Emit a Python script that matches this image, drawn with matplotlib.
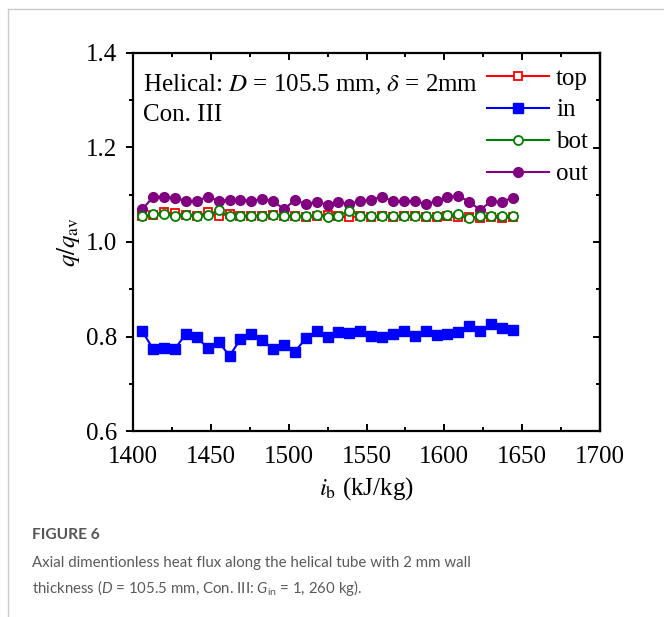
import numpy as np
import matplotlib
matplotlib.use("Agg")
import matplotlib.pyplot as plt
from matplotlib.lines import Line2D
from matplotlib.ticker import MultipleLocator, FormatStrFormatter

# ---- data ----
ib = [1406 + 7 * k for k in range(35)]
q_top = [1.055, 1.058, 1.063, 1.061, 1.057, 1.055, 1.063, 1.055, 1.060, 1.056,
         1.055, 1.056, 1.058, 1.055, 1.056, 1.053, 1.055, 1.057, 1.054, 1.052,
         1.055, 1.053, 1.054, 1.053, 1.055, 1.054, 1.053, 1.052, 1.055, 1.052,
         1.053, 1.051, 1.052, 1.051, 1.052]
q_in = [0.811, 0.773, 0.775, 0.774, 0.806, 0.798, 0.776, 0.789, 0.759, 0.794,
        0.805, 0.792, 0.773, 0.781, 0.768, 0.796, 0.811, 0.798, 0.810, 0.807,
        0.812, 0.801, 0.799, 0.805, 0.812, 0.801, 0.811, 0.803, 0.806, 0.809,
        0.823, 0.812, 0.826, 0.818, 0.814]
q_bot = [1.054, 1.059, 1.059, 1.054, 1.057, 1.055, 1.057, 1.067, 1.054, 1.055,
         1.055, 1.055, 1.057, 1.054, 1.055, 1.055, 1.057, 1.052, 1.056, 1.066,
         1.055, 1.055, 1.055, 1.055, 1.055, 1.055, 1.055, 1.055, 1.057, 1.059,
         1.050, 1.055, 1.055, 1.055, 1.055]
q_out = [1.069, 1.096, 1.096, 1.093, 1.087, 1.087, 1.096, 1.087, 1.089, 1.089,
         1.087, 1.091, 1.087, 1.069, 1.089, 1.080, 1.085, 1.079, 1.085, 1.080,
         1.087, 1.089, 1.096, 1.086, 1.087, 1.086, 1.081, 1.086, 1.096, 1.098,
         1.085, 1.068, 1.086, 1.085, 1.094]

series_names = ["top", "in", "bot", "out"]
colors = ["#ff0000", "#0000ff", "#008000", "#800080"]

# ---- style ----
plt.rcParams["font.family"] = ["Liberation Serif", "DejaVu Serif"]
plt.rcParams["mathtext.fontset"] = "custom"
plt.rcParams["mathtext.rm"] = "Lato"
plt.rcParams["mathtext.it"] = "Lato:italic"

fig = plt.figure(figsize=(6.64, 6.17), dpi=100)
ax = fig.add_axes([133 / 664, 1 - 431 / 617, 467 / 664, 378 / 617])

ax.plot(ib, q_top, color=colors[0], lw=1.5, marker="s", ms=6,
        mfc="white", mec=colors[0], mew=1.3, label=series_names[0], zorder=3)
ax.plot(ib, q_in, color=colors[1], lw=1.5, marker="s", ms=6.5,
        mfc=colors[1], mec=colors[1], label=series_names[1], zorder=3)
ax.plot(ib, q_bot, color=colors[2], lw=1.5, marker="o", ms=6.5,
        mfc="white", mec=colors[2], mew=1.3, label=series_names[2], zorder=4)
ax.plot(ib, q_out, color=colors[3], lw=1.5, marker="o", ms=7,
        mfc=colors[3], mec=colors[3], label=series_names[3], zorder=3)

ax.set_xlim(1400, 1700)
ax.set_ylim(0.6, 1.4)
ax.xaxis.set_major_locator(MultipleLocator(50))
ax.xaxis.set_minor_locator(MultipleLocator(25))
ax.yaxis.set_major_locator(MultipleLocator(0.2))
ax.yaxis.set_minor_locator(MultipleLocator(0.1))
ax.yaxis.set_major_formatter(FormatStrFormatter("%.1f"))

for s in ax.spines.values():
    s.set_linewidth(1.6)
ax.tick_params(axis="x", which="both", direction="in", top=True, labelsize=18,
               width=1.4, pad=11)
ax.tick_params(axis="x", which="major", length=5)
ax.tick_params(axis="x", which="minor", length=3)
ax.tick_params(axis="y", which="both", direction="out", right=False, labelsize=18,
               width=1.4, pad=6.5)
ax.tick_params(axis="y", which="major", length=5)
ax.tick_params(axis="y", which="minor", length=3)

ax2 = ax.secondary_yaxis("right")
ax2.yaxis.set_major_locator(MultipleLocator(0.2))
ax2.yaxis.set_minor_locator(MultipleLocator(0.1))
ax2.tick_params(which="both", direction="in", labelright=False, width=1.4)
ax2.tick_params(which="major", length=5)
ax2.tick_params(which="minor", length=3)
ax2.spines["right"].set_linewidth(1.6)

ax.set_xlabel(r"$i_{\rm b}$ (kJ/kg)", fontsize=18, labelpad=5,
              math_fontfamily="stix")
ax.set_ylabel(r"$q/q_{\rm av}$", fontsize=18, labelpad=3,
              math_fontfamily="stix")

ax.text(0.022, 0.915, r"Helical: $D$ = 105.5 mm, $\delta$ = 2mm", transform=ax.transAxes,
        fontsize=18, va="center", ha="left", math_fontfamily="stix")
ax.text(0.022, 0.837, "Con. III", transform=ax.transAxes,
        fontsize=18, va="center", ha="left")

leg = ax.legend(loc="upper left", bbox_to_anchor=(487 / 664, 1 - 67 / 617),
                bbox_transform=fig.transFigure, frameon=False,
                fontsize=18, handlelength=2.48, handletextpad=0.28,
                labelspacing=0.38, borderaxespad=0, borderpad=0)

# ---- frame & caption ----
fig.add_artist(Line2D([8 / 664, 1], [1 - 9 / 617, 1 - 9 / 617], color="#cccccc", lw=1))
fig.add_artist(Line2D([8 / 664, 8 / 664], [0, 1 - 9 / 617], color="#cccccc", lw=1))

cap_color = "#5a5a5a"
fig.text(32 / 664, 1 - 535 / 617, "FIGURE 6", fontsize=11.2, family="Lato",
         color="#555555", va="center", ha="left", fontweight="bold")
fig.text(32 / 664, 1 - 563 / 617,
         "Axial dimentionless heat flux along the helical tube with 2 mm wall",
         fontsize=10.8, family="Lato", color=cap_color, va="center", ha="left")
fig.text(32 / 664, 1 - 588 / 617,
         r"thickness ($D$ = 105.5 mm, Con. III: $G_{\rm in}$ = 1, 260 kg).",
         fontsize=10.8, family="Lato", color=cap_color, va="center", ha="left")

fig.savefig("out.png", dpi=100)
